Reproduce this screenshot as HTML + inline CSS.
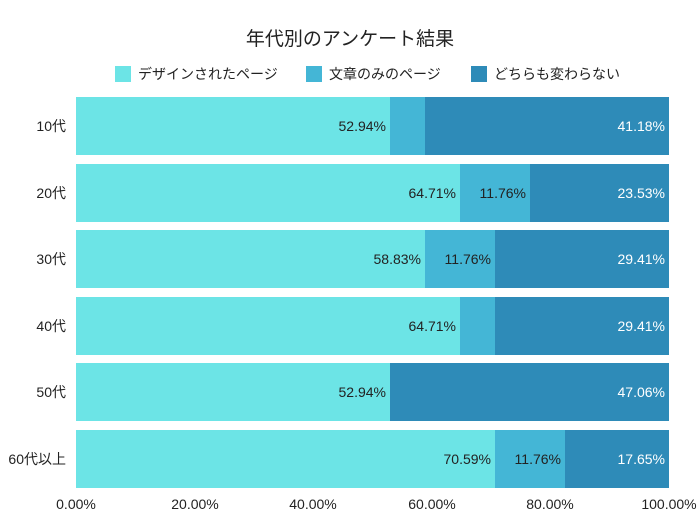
<!DOCTYPE html>
<html><head><meta charset="utf-8"><style>
body{margin:0;background:#fff;}
svg text{font-family:"Liberation Sans","Noto Sans CJK JP",sans-serif;}
</style></head><body>
<svg width="700" height="525" xmlns="http://www.w3.org/2000/svg">
<rect width="700" height="525" fill="#fff"/>
<text x="350" y="45" font-size="19" text-anchor="middle" fill="#222">年代別のアンケート結果</text>
<rect x="115" y="66" width="16" height="16" fill="#6ce4e6"/>
<text x="138" y="79" font-size="14" fill="#222">デザインされたページ</text>
<rect x="306" y="66" width="16" height="16" fill="#44b6d6"/>
<text x="329" y="79" font-size="14" fill="#222">文章のみのページ</text>
<rect x="471" y="66" width="16" height="16" fill="#2e8bb8"/>
<text x="494" y="79" font-size="14" fill="#222">どちらも変わらない</text>
<g font-size="14">
<!-- rows: y top -->
<g transform="translate(0,97)">
<rect x="76" y="0" width="314" height="58" fill="#6ce4e6"/><rect x="390" y="0" width="35" height="58" fill="#44b6d6"/><rect x="425" y="0" width="244" height="58" fill="#2e8bb8"/>
<text x="66" y="34" text-anchor="end" fill="#222">10代</text>
<text x="386" y="34" text-anchor="end" fill="#222">52.94%</text>
<text x="665" y="34" text-anchor="end" fill="#fff">41.18%</text>
</g>
<g transform="translate(0,164)">
<rect x="76" y="0" width="384" height="58" fill="#6ce4e6"/><rect x="460" y="0" width="70" height="58" fill="#44b6d6"/><rect x="530" y="0" width="139" height="58" fill="#2e8bb8"/>
<text x="66" y="34" text-anchor="end" fill="#222">20代</text>
<text x="456" y="34" text-anchor="end" fill="#222">64.71%</text>
<text x="526" y="34" text-anchor="end" fill="#222">11.76%</text>
<text x="665" y="34" text-anchor="end" fill="#fff">23.53%</text>
</g>
<g transform="translate(0,230)">
<rect x="76" y="0" width="349" height="58" fill="#6ce4e6"/><rect x="425" y="0" width="70" height="58" fill="#44b6d6"/><rect x="495" y="0" width="174" height="58" fill="#2e8bb8"/>
<text x="66" y="34" text-anchor="end" fill="#222">30代</text>
<text x="421" y="34" text-anchor="end" fill="#222">58.83%</text>
<text x="491" y="34" text-anchor="end" fill="#222">11.76%</text>
<text x="665" y="34" text-anchor="end" fill="#fff">29.41%</text>
</g>
<g transform="translate(0,297)">
<rect x="76" y="0" width="384" height="58" fill="#6ce4e6"/><rect x="460" y="0" width="35" height="58" fill="#44b6d6"/><rect x="495" y="0" width="174" height="58" fill="#2e8bb8"/>
<text x="66" y="34" text-anchor="end" fill="#222">40代</text>
<text x="456" y="34" text-anchor="end" fill="#222">64.71%</text>
<text x="665" y="34" text-anchor="end" fill="#fff">29.41%</text>
</g>
<g transform="translate(0,363)">
<rect x="76" y="0" width="314" height="58" fill="#6ce4e6"/><rect x="390" y="0" width="279" height="58" fill="#2e8bb8"/>
<text x="66" y="34" text-anchor="end" fill="#222">50代</text>
<text x="386" y="34" text-anchor="end" fill="#222">52.94%</text>
<text x="665" y="34" text-anchor="end" fill="#fff">47.06%</text>
</g>
<g transform="translate(0,430)">
<rect x="76" y="0" width="419" height="58" fill="#6ce4e6"/><rect x="495" y="0" width="70" height="58" fill="#44b6d6"/><rect x="565" y="0" width="104" height="58" fill="#2e8bb8"/>
<text x="66" y="34" text-anchor="end" fill="#222">60代以上</text>
<text x="491" y="34" text-anchor="end" fill="#222">70.59%</text>
<text x="561" y="34" text-anchor="end" fill="#222">11.76%</text>
<text x="665" y="34" text-anchor="end" fill="#fff">17.65%</text>
</g>
<g text-anchor="middle" fill="#222">
<text x="76" y="509">0.00%</text>
<text x="195" y="509">20.00%</text>
<text x="313" y="509">40.00%</text>
<text x="432" y="509">60.00%</text>
<text x="550" y="509">80.00%</text>
<text x="669" y="509">100.00%</text>
</g>
</g>
</svg>
</body></html>
